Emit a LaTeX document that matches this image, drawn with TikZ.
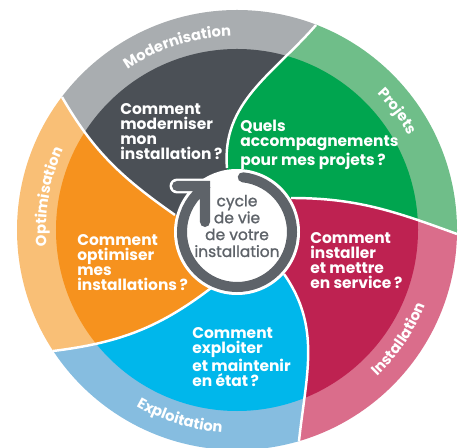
\documentclass[tikz,border=0pt]{standalone}
\usepackage{fontspec}
\setmainfont{Poppins}
\newfontfamily\centrefont{Poppins}[FakeBold=1.2]
\usetikzlibrary{decorations.text}

\definecolor{modDark}{HTML}{4B5056}
\definecolor{modLight}{HTML}{A9ADB0}
\definecolor{projDark}{HTML}{00A54F}
\definecolor{projLight}{HTML}{6FBE89}
\definecolor{instDark}{HTML}{BE2251}
\definecolor{instLight}{HTML}{DA6D8B}
\definecolor{explDark}{HTML}{00B7EB}
\definecolor{explLight}{HTML}{86BDE0}
\definecolor{optDark}{HTML}{F6921E}
\definecolor{optLight}{HTML}{F9BF76}
\definecolor{ringGray}{HTML}{5E6369}

\newcommand{\bandfont}{\color{white}\bfseries\fontsize{8.4}{10}\selectfont}

\tikzset{
  question/.style={text=white, font=\bfseries\fontsize{8.8}{8.6}\selectfont, align=left, anchor=north west, inner sep=0pt},
  centre text/.style={text=ringGray, font=\centrefont\fontsize{8.8}{9.6}\selectfont, align=center, inner sep=0pt},
  band label/.style={decorate, decoration={text along path, text align=center, text={|\bandfont|#1}}},
  split line/.style={white, line width=1.4pt},
  cycle line/.style={line width=#1, line cap=round},
}

\begin{document}
\begin{tikzpicture}[x=0.02cm, y=0.02cm]
    \useasboundingbox (-237,-218) rectangle (228,230);

    % ends of the swirl lines
    \coordinate (pA) at (-10,62);  \coordinate (oA) at (79,205);
    \coordinate (pB) at (54,32);   \coordinate (oB) at (220,-4);
    \coordinate (pC) at (47,-44);  \coordinate (oC) at (62,-211);
    \coordinate (pD) at (-22,-55); \coordinate (oD) at (-184,-121);
    \coordinate (pE) at (-62,15);  \coordinate (oE) at (-175,133);

    % Modernisation
    \begin{scope}
        \clip (0,0) -- (pA) to[out=95,in=229] (oA) -- (69:400) -- (107:400) -- (143:400) -- (oE) to[out=300,in=145] (pE) -- cycle;
        \fill[modLight] (0,0) circle (220);
        \fill[modDark] (0,0) circle (181);
    \end{scope}
    % Projets
    \begin{scope}
        \clip (0,0) -- (pB) to[out=0,in=160] (oB) -- (-1:400) -- (34:400) -- (69:400) -- (oA) to[out=229,in=95] (pA) -- cycle;
        \fill[projLight] (0,0) circle (220);
        \fill[projDark] (0,0) circle (181);
    \end{scope}
    % Installation
    \begin{scope}
        \clip (0,0) -- (pC) to[out=-55,in=84] (oC) -- (-74:400) -- (-37:400) -- (-1:400) -- (oB) to[out=160,in=0] (pB) -- cycle;
        \fill[instLight] (0,0) circle (220);
        \fill[instDark] (0,0) circle (181);
    \end{scope}
    % Exploitation
    \begin{scope}
        \clip (0,0) -- (pD) to[out=218,in=7] (oD) -- (-147:400) -- (-110:400) -- (-74:400) -- (oC) to[out=84,in=-55] (pC) -- cycle;
        \fill[explLight] (0,0) circle (220);
        \fill[explDark] (0,0) circle (181);
    \end{scope}
    % Optimisation
    \begin{scope}
        \clip (0,0) -- (pE) to[out=145,in=300] (oE) -- (143:400) -- (180:400) -- (213:400) -- (oD) to[out=7,in=218] (pD) -- cycle;
        \fill[optLight] (0,0) circle (220);
        \fill[optDark] (0,0) circle (181);
    \end{scope}

    \draw[split line] (pA) to[out=95,in=229] (oA);
    \draw[split line] (pB) to[out=0,in=160] (oB);
    \draw[split line] (pC) to[out=-55,in=84] (oC);
    \draw[split line] (pD) to[out=218,in=7] (oD);
    \draw[split line] (pE) to[out=145,in=300] (oE);

    % ring labels
    \path[band label=Modernisation] (150:194) arc[start angle=150, end angle=66, radius=194];
    \path[band label=Projets] (80:196) arc[start angle=80, end angle=-7, radius=196];
    \path[band label=Installation] (-78:203) arc[start angle=-78, end angle=10, radius=203];
    \path[band label=Exploitation] (-150:203) arc[start angle=-150, end angle=-64, radius=203];
    \path[band label=Optimisation] (214:191) arc[start angle=214, end angle=126, radius=191];

    % centre
    \fill[white] (0,-2) circle (63);
    \draw[white, cycle line=8.5pt] (0,-2) ++(84:55) arc[start angle=84, end angle=-235, radius=55]
        (-60,44) -- (-32,44) -- (-32,8);
    \draw[ringGray, cycle line=5.7pt] (0,-2) ++(84:55) arc[start angle=84, end angle=-235, radius=55]
        (-60,44) -- (-32,44) -- (-32,8);
    \node[centre text] (cycle) at (0,4) {cycle\\de vie\\de votre\\installation};

    \node[question] (modQ) at (-117,127) {Comment\\moderniser\\mon\\installation\,?};
    \node[question] (projQ) at (3,110) {Quels\\accompagnements\\pour mes projets\,?};
    \node[question] (instQ) at (73,-2) {Comment\\installer\\et mettre\\en service\,?};
    \node[question] (explQ) at (-45,-97) {Comment\\exploiter\\et maintenir\\en état\,?};
    \node[question] (optQ) at (-160,-4) {Comment\\optimiser\\mes\\installations\,?};
\end{tikzpicture}
\end{document}
